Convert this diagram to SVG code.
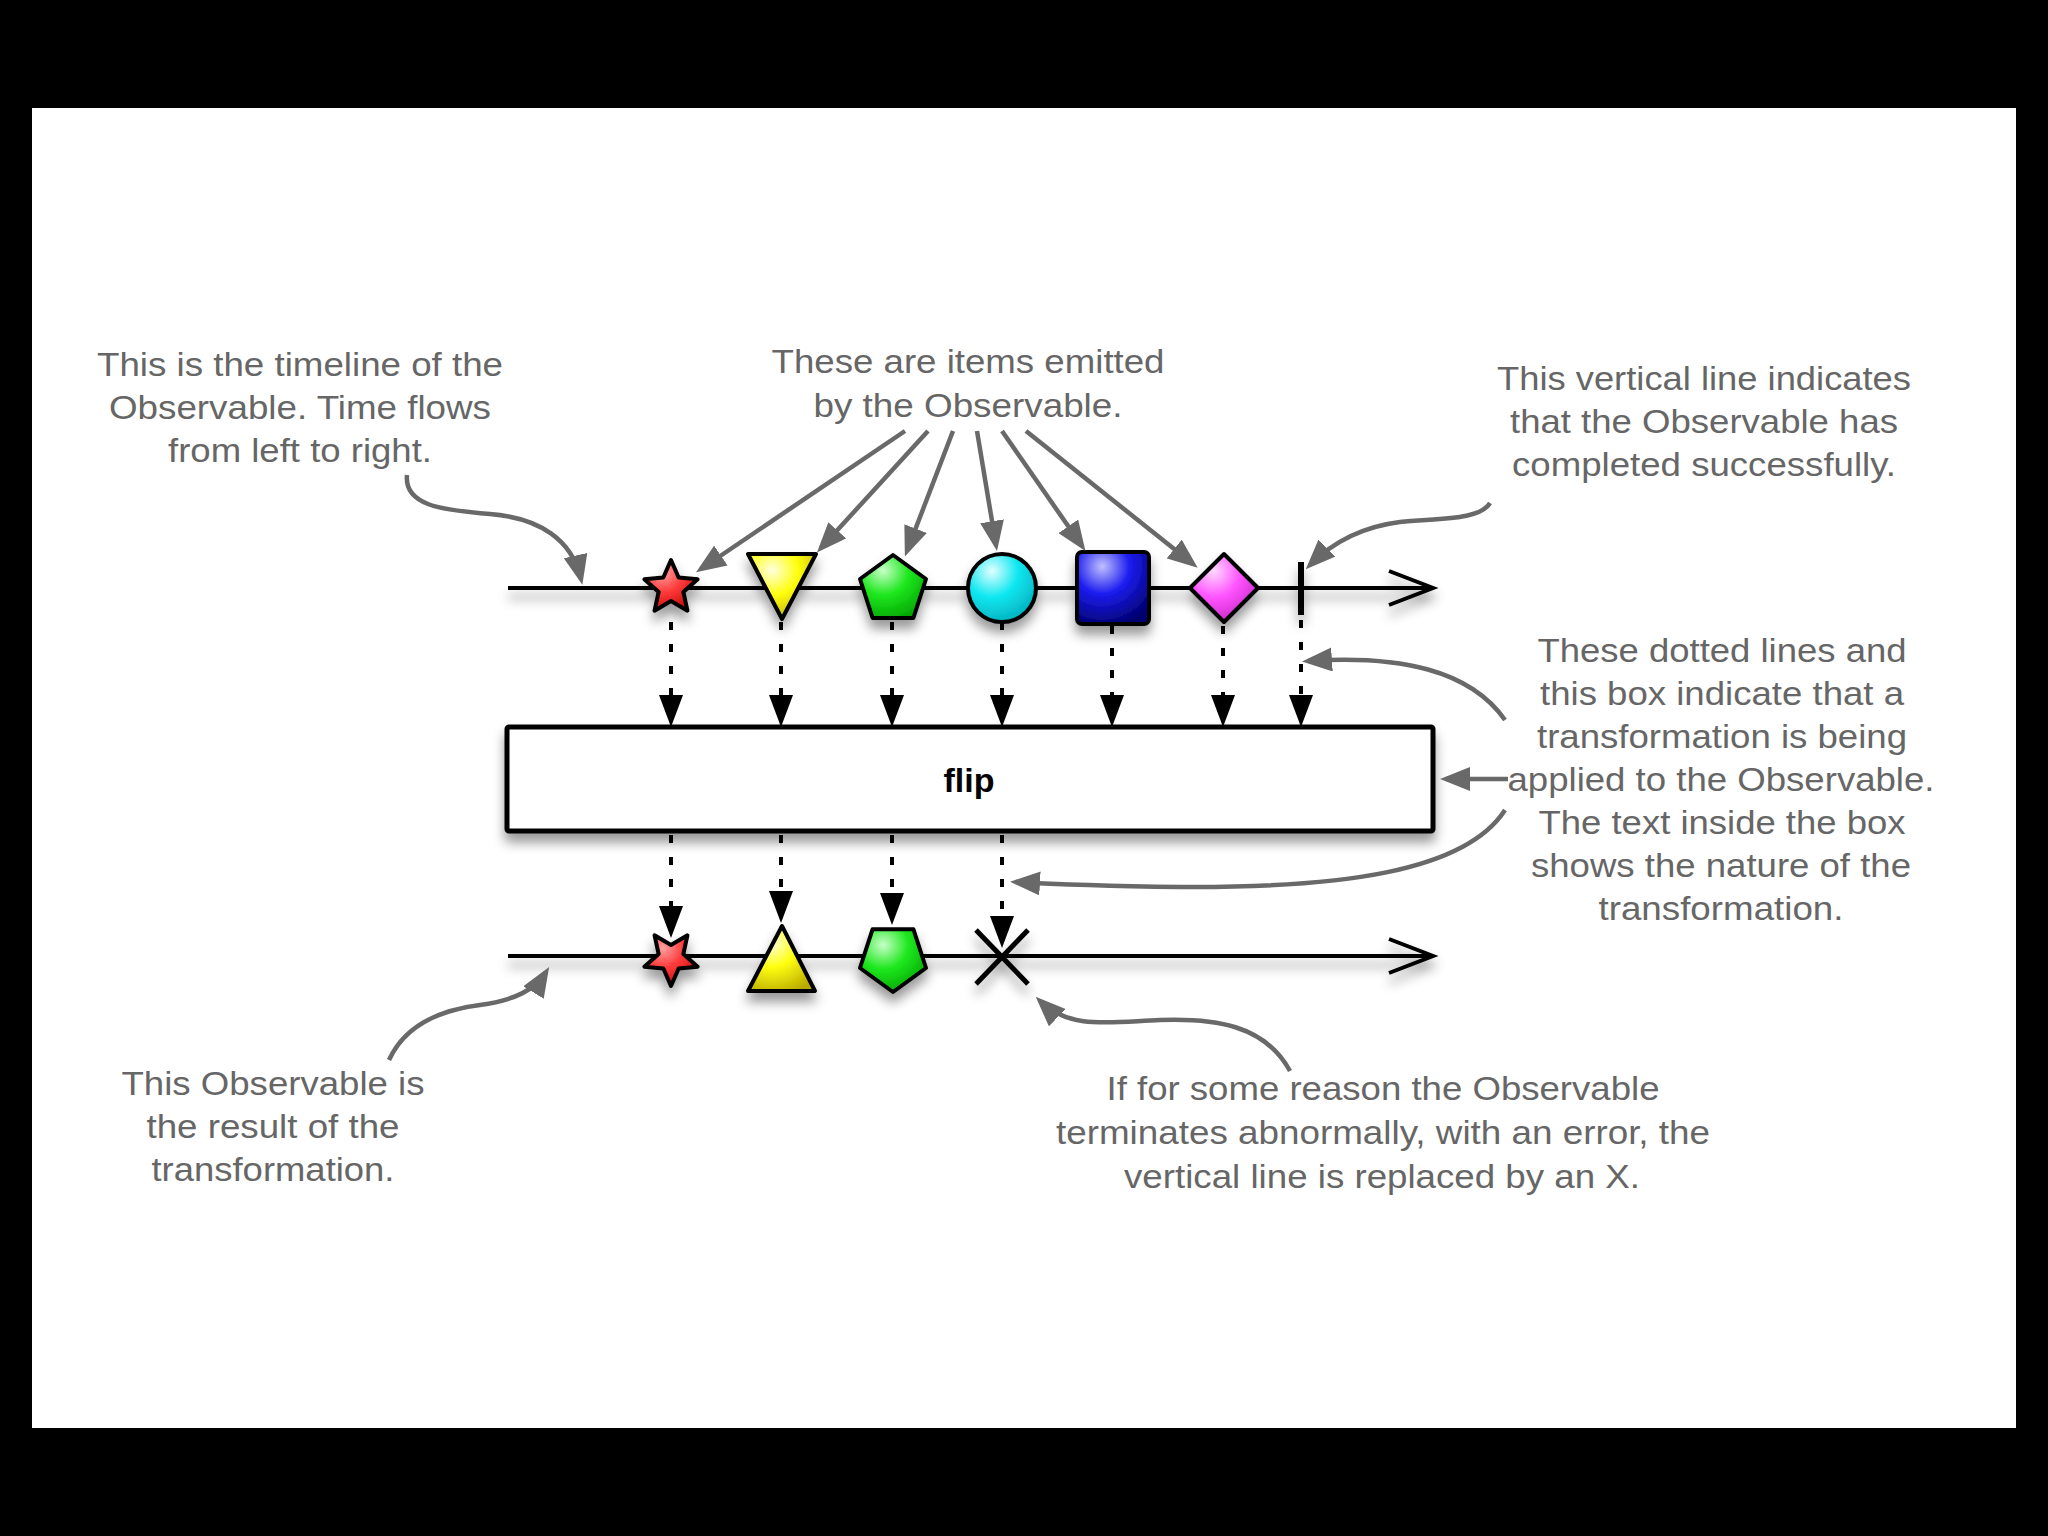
<svg xmlns="http://www.w3.org/2000/svg" width="2048" height="1536" viewBox="0 0 2048 1536">
<defs>
<style>
.ln{stroke:#000;stroke-width:4;fill:none}
.shp{stroke:#000;stroke-width:4;stroke-linejoin:round}
.dot{stroke:#000;stroke-width:4;fill:none;stroke-dasharray:8 14;marker-end:url(#ba)}
.call{stroke:#696969;stroke-width:4.5;fill:none;marker-end:url(#ga)}
.t{font-family:"Liberation Sans",Arial,Helvetica,sans-serif;font-size:34px;fill:#666;text-anchor:middle}
.b{font-family:"Liberation Sans",Arial,Helvetica,sans-serif;font-size:34px;font-weight:bold;fill:#000;text-anchor:middle}
</style>
<filter id="sh" filterUnits="userSpaceOnUse" x="0" y="0" width="2048" height="1536">
<feDropShadow dx="0" dy="9" stdDeviation="6" flood-color="#000" flood-opacity="0.4"/>
</filter>
<marker id="ba" viewBox="0 0 32 24" refX="26" refY="12" markerWidth="32" markerHeight="24" markerUnits="userSpaceOnUse" orient="auto"><path d="M0,0 L32,12 L0,24 z" fill="#000"/></marker>
<marker id="ga" viewBox="0 0 30 24" refX="24" refY="12" markerWidth="30" markerHeight="24" markerUnits="userSpaceOnUse" orient="auto"><path d="M0,0 L30,12 L0,24 z" fill="#696969"/></marker>
<radialGradient id="gR" cx="0.35" cy="0.25" r="0.85"><stop offset="0" stop-color="#ffa0a0"/><stop offset="0.45" stop-color="#ff3b3b"/><stop offset="1" stop-color="#c00000"/></radialGradient>
<radialGradient id="gY" cx="0.35" cy="0.25" r="0.85"><stop offset="0" stop-color="#ffffe0"/><stop offset="0.45" stop-color="#ffff10"/><stop offset="1" stop-color="#b8a800"/></radialGradient>
<radialGradient id="gG" cx="0.35" cy="0.25" r="0.85"><stop offset="0" stop-color="#c8ffc8"/><stop offset="0.45" stop-color="#1ee81e"/><stop offset="1" stop-color="#00a000"/></radialGradient>
<radialGradient id="gC" cx="0.35" cy="0.25" r="0.85"><stop offset="0" stop-color="#e0ffff"/><stop offset="0.45" stop-color="#10e8f0"/><stop offset="1" stop-color="#00a8b8"/></radialGradient>
<radialGradient id="gB" cx="0.35" cy="0.2" r="0.85"><stop offset="0" stop-color="#c0c0ff"/><stop offset="0.45" stop-color="#1c1cf0"/><stop offset="1" stop-color="#000070"/></radialGradient>
<radialGradient id="gM" cx="0.35" cy="0.25" r="0.85"><stop offset="0" stop-color="#ffd8ff"/><stop offset="0.45" stop-color="#ff55ff"/><stop offset="1" stop-color="#c020c0"/></radialGradient>
</defs>

<rect x="0" y="0" width="2048" height="1536" fill="#000"/>
<rect x="32" y="108" width="1984" height="1320" fill="#fff"/>

<g filter="url(#sh)">
<g id="timeline-top">
<line class="ln" x1="508" y1="588" x2="1432" y2="588"/>
<polyline class="ln" points="1389,571 1433,588 1389,605" stroke-linejoin="miter"/>
</g>
<g id="timeline-bottom">
<line class="ln" x1="508" y1="956" x2="1432" y2="956"/>
<polyline class="ln" points="1389,939 1433,956 1389,973" stroke-linejoin="miter"/>
</g>
<g id="flip-box">
<rect x="507" y="727" width="926" height="104" rx="2" fill="#fff" stroke="#000" stroke-width="5"/>
</g>
<g id="item-star">
<path class="shp" fill="url(#gR)" transform="translate(671,588)" d="M0,-28 L7.64,-10.52 L26.63,-8.65 L12.36,4.02 L16.46,22.65 L0,13 L-16.46,22.65 L-12.36,4.02 L-26.63,-8.65 L-7.64,-10.52 Z"/>
</g>
<g id="item-triangle">
<path class="shp" fill="url(#gY)" d="M748,554 L816,554 L782,619 Z"/>
</g>
<g id="item-pentagon">
<path class="shp" fill="url(#gG)" d="M893,555 L926,579 L913.4,618 L872.6,618 L860,579 Z"/>
</g>
<g id="item-circle">
<circle class="shp" fill="url(#gC)" cx="1002" cy="588" r="34"/>
</g>
<g id="item-square">
<rect class="shp" fill="url(#gB)" x="1077" y="552" width="72" height="72" rx="5"/>
</g>
<g id="item-diamond">
<path class="shp" fill="url(#gM)" d="M1224,554 L1258,588 L1224,622 L1190,588 Z"/>
</g>
<g id="complete-bar">
<line x1="1301" y1="562" x2="1301" y2="615" stroke="#000" stroke-width="6"/>
</g>
<g id="out-star">
<path class="shp" fill="url(#gR)" transform="translate(671,958)" d="M0,28 L7.64,10.52 L26.63,8.65 L12.36,-4.02 L16.46,-22.65 L0,-13 L-16.46,-22.65 L-12.36,-4.02 L-26.63,8.65 L-7.64,10.52 Z"/>
</g>
<g id="out-triangle">
<path class="shp" fill="url(#gY)" d="M782,926 L815,991 L748,991 Z"/>
</g>
<g id="out-pentagon">
<path class="shp" fill="url(#gG)" d="M893,992 L926,968 L913.4,929.2 L872.6,929.2 L860,968 Z"/>
</g>
<g id="error-x">
<line x1="976" y1="930" x2="1028" y2="984" stroke="#000" stroke-width="5"/>
<line x1="1028" y1="930" x2="976" y2="984" stroke="#000" stroke-width="5"/>
</g>
</g>

<text class="b" x="969" y="792">flip</text>

<g id="connectors">
<path class="dot" d="M671,622 L671,721"/>
<path class="dot" d="M781,622 L781,721"/>
<path class="dot" d="M892,622 L892,721"/>
<path class="dot" d="M1002,622 L1002,721"/>
<path class="dot" d="M1112,626 L1112,721"/>
<path class="dot" d="M1223,626 L1223,721"/>
<path class="dot" d="M1301,620 L1301,721"/>
<path class="dot" d="M671,835 L671,932"/>
<path class="dot" d="M781,835 L781,917"/>
<path class="dot" d="M892,835 L892,919"/>
<path class="dot" d="M1002,835 L1002,942"/>

<path class="call" d="M407,475 C404,505 440,510 490,514 C540,518 572,540 581,579"/>
<path class="call" d="M905,431 L701,569"/>
<path class="call" d="M928,431 L821,548"/>
<path class="call" d="M953,431 L907,551"/>
<path class="call" d="M977,431 L996,545"/>
<path class="call" d="M1002,431 L1082,546"/>
<path class="call" d="M1026,431 L1193,564"/>
<path class="call" d="M1490,503 C1480,520 1440,518 1400,522 C1360,527 1330,545 1310,565"/>
<path class="call" d="M1505,720 C1470,670 1400,655 1308,661"/>
<path class="call" d="M1508,779 L1446,779"/>
<path class="call" d="M1505,810 C1465,872 1340,888 1180,887 C1100,886 1050,884 1016,882"/>
<path class="call" d="M389,1060 C405,1025 440,1010 480,1005 C515,1000 535,990 546,972"/>
<path class="call" d="M1290,1071 C1265,1025 1215,1018 1160,1020 C1110,1022 1070,1030 1040,1001"/>
</g>

<g id="note-timeline">
<text class="t" x="300" y="376" textLength="406" lengthAdjust="spacingAndGlyphs">This is the timeline of the</text>
<text class="t" x="300" y="419" textLength="382" lengthAdjust="spacingAndGlyphs">Observable. Time flows</text>
<text class="t" x="300" y="462" textLength="264" lengthAdjust="spacingAndGlyphs">from left to right.</text>
</g>
<g id="note-items">
<text class="t" x="968" y="373" textLength="393" lengthAdjust="spacingAndGlyphs">These are items emitted</text>
<text class="t" x="968" y="417" textLength="309" lengthAdjust="spacingAndGlyphs">by the Observable.</text>
</g>
<g id="note-complete">
<text class="t" x="1704" y="390" textLength="414" lengthAdjust="spacingAndGlyphs">This vertical line indicates</text>
<text class="t" x="1704" y="433" textLength="388" lengthAdjust="spacingAndGlyphs">that the Observable has</text>
<text class="t" x="1704" y="476" textLength="384" lengthAdjust="spacingAndGlyphs">completed successfully.</text>
</g>
<g id="note-transform">
<text class="t" x="1722" y="662" textLength="369" lengthAdjust="spacingAndGlyphs">These dotted lines and</text>
<text class="t" x="1722" y="705" textLength="364" lengthAdjust="spacingAndGlyphs">this box indicate that a</text>
<text class="t" x="1722" y="748" textLength="370" lengthAdjust="spacingAndGlyphs">transformation is being</text>
<text class="t" x="1721" y="791" textLength="427" lengthAdjust="spacingAndGlyphs">applied to the Observable.</text>
<text class="t" x="1722" y="834" textLength="367" lengthAdjust="spacingAndGlyphs">The text inside the box</text>
<text class="t" x="1721" y="877" textLength="380" lengthAdjust="spacingAndGlyphs">shows the nature of the</text>
<text class="t" x="1721" y="920" textLength="245" lengthAdjust="spacingAndGlyphs">transformation.</text>
</g>
<g id="note-result">
<text class="t" x="273" y="1095" textLength="303" lengthAdjust="spacingAndGlyphs">This Observable is</text>
<text class="t" x="273" y="1138" textLength="253" lengthAdjust="spacingAndGlyphs">the result of the</text>
<text class="t" x="273" y="1181" textLength="243" lengthAdjust="spacingAndGlyphs">transformation.</text>
</g>
<g id="note-error">
<text class="t" x="1383" y="1100" textLength="553" lengthAdjust="spacingAndGlyphs">If for some reason the Observable</text>
<text class="t" x="1383" y="1144" textLength="654" lengthAdjust="spacingAndGlyphs">terminates abnormally, with an error, the</text>
<text class="t" x="1382" y="1188" textLength="516" lengthAdjust="spacingAndGlyphs">vertical line is replaced by an X.</text>
</g>
</svg>
